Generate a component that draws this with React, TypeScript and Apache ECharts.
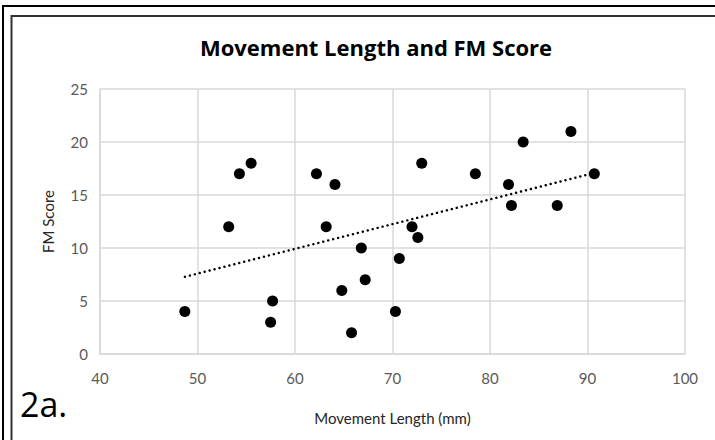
import React, { useEffect, useRef } from "react";
import * as echarts from "echarts";

const titleText = "Movement Length and FM Score";
const xAxisName = "Movement Length (mm)";
const yAxisName = "FM Score";
const panelLabel = "2a.";

const movementLength = [
  48.7, 53.2, 54.3, 55.5, 57.7, 57.5, 62.2, 64.1, 63.2, 66.8, 67.2, 64.8, 65.8,
  70.3, 70.7, 72.0, 72.6, 73.0, 78.5, 81.9, 82.2, 83.4, 86.9, 88.3, 90.7,
];
const fmScore = [
  4, 12, 17, 18, 5, 3, 17, 16, 12, 10, 7, 6, 2,
  4, 9, 12, 11, 18, 17, 16, 14, 20, 14, 21, 17,
];

const xMin = 40, xMax = 100, xStep = 10;
const yMin = 0, yMax = 25, yStep = 5;

function linearFit(xs: number[], ys: number[]) {
  const n = xs.length;
  const mx = xs.reduce((a, b) => a + b, 0) / n;
  const my = ys.reduce((a, b) => a + b, 0) / n;
  let sxy = 0, sxx = 0;
  for (let i = 0; i < n; i++) {
    sxy += (xs[i] - mx) * (ys[i] - my);
    sxx += (xs[i] - mx) * (xs[i] - mx);
  }
  const slope = sxy / sxx;
  return { slope, intercept: my - slope * mx };
}

export default function App() {
  const ref = useRef<HTMLDivElement>(null);
  useEffect(() => {
    if (!ref.current) return;
    const chart = echarts.init(ref.current, undefined, { renderer: "svg" });
    const points = movementLength.map((x, i) => [x, fmScore[i]]);
    const fit = linearFit(movementLength, fmScore);
    const lo = Math.min(...movementLength);
    const hi = Math.max(...movementLength);
    const trend = [
      [lo, fit.intercept + fit.slope * lo],
      [hi, fit.intercept + fit.slope * hi],
    ];
    const font = "Lato, 'Open Sans', sans-serif";
    const wide = "'Open Sans', Lato, sans-serif";
    chart.setOption({
      animation: false,
      backgroundColor: "#ffffff",
      textStyle: { fontFamily: font },
      title: {
        text: titleText,
        left: 371,
        top: 31,
        textAlign: "center",
        textStyle: { fontFamily: wide, fontSize: 22, fontWeight: "bold", color: "#000000" },
      },
      grid: { left: 100, right: 30, top: 89, bottom: 86 },
      xAxis: {
        type: "value",
        min: xMin,
        max: xMax,
        interval: xStep,
        name: xAxisName,
        nameLocation: "middle",
        nameGap: 56,
        nameTextStyle: { fontFamily: font, fontSize: 15, color: "#262626" },
        axisLine: { show: true, lineStyle: { color: "#d9d9d9", width: 1.5 } },
        axisTick: { show: false },
        axisLabel: { fontFamily: font, fontSize: 15, color: "#595959", margin: 16 },
        splitLine: { show: true, lineStyle: { color: "#d9d9d9", width: 1.5 } },
      },
      yAxis: {
        type: "value",
        min: yMin,
        max: yMax,
        interval: yStep,
        name: yAxisName,
        nameLocation: "middle",
        nameGap: 45,
        nameRotate: 90,
        nameTextStyle: { fontFamily: font, fontSize: 15, color: "#262626" },
        axisLine: { show: true, lineStyle: { color: "#d9d9d9", width: 1.5 } },
        axisTick: { show: false },
        axisLabel: { fontFamily: font, fontSize: 15, color: "#595959", margin: 12 },
        splitLine: { show: true, lineStyle: { color: "#d9d9d9", width: 1.5 } },
      },
      graphic: [
        { type: "line", shape: { x1: 2, y1: 6, x2: 715, y2: 6 }, style: { stroke: "#000", lineWidth: 2 } },
        { type: "line", shape: { x1: 3, y1: 5, x2: 3, y2: 440 }, style: { stroke: "#000", lineWidth: 2 } },
        { type: "line", shape: { x1: 11.5, y1: 16, x2: 715, y2: 16 }, style: { stroke: "#333", lineWidth: 2 } },
        { type: "line", shape: { x1: 11.5, y1: 15, x2: 11.5, y2: 440 }, style: { stroke: "#333", lineWidth: 2 } },
        {
          type: "text",
          left: 20,
          top: 387,
          style: { text: panelLabel, fontFamily: wide, fontSize: 34, fill: "#000" },
        },
      ],
      series: [
        {
          type: "scatter",
          data: points,
          symbol: "circle",
          symbolSize: 11,
          itemStyle: { color: "#000000", opacity: 1 },
          z: 3,
        },
        {
          type: "line",
          data: trend,
          showSymbol: false,
          symbol: "none",
          lineStyle: { color: "#000000", width: 2.4, type: [0.1, 5], cap: "round" },
          z: 2,
        },
      ],
    });
    return () => chart.dispose();
  }, []);
  return (
    <div
      ref={ref}
      style={{ position: "absolute", left: 0, top: 0, width: 715, height: 440 }}
    />
  );
}
